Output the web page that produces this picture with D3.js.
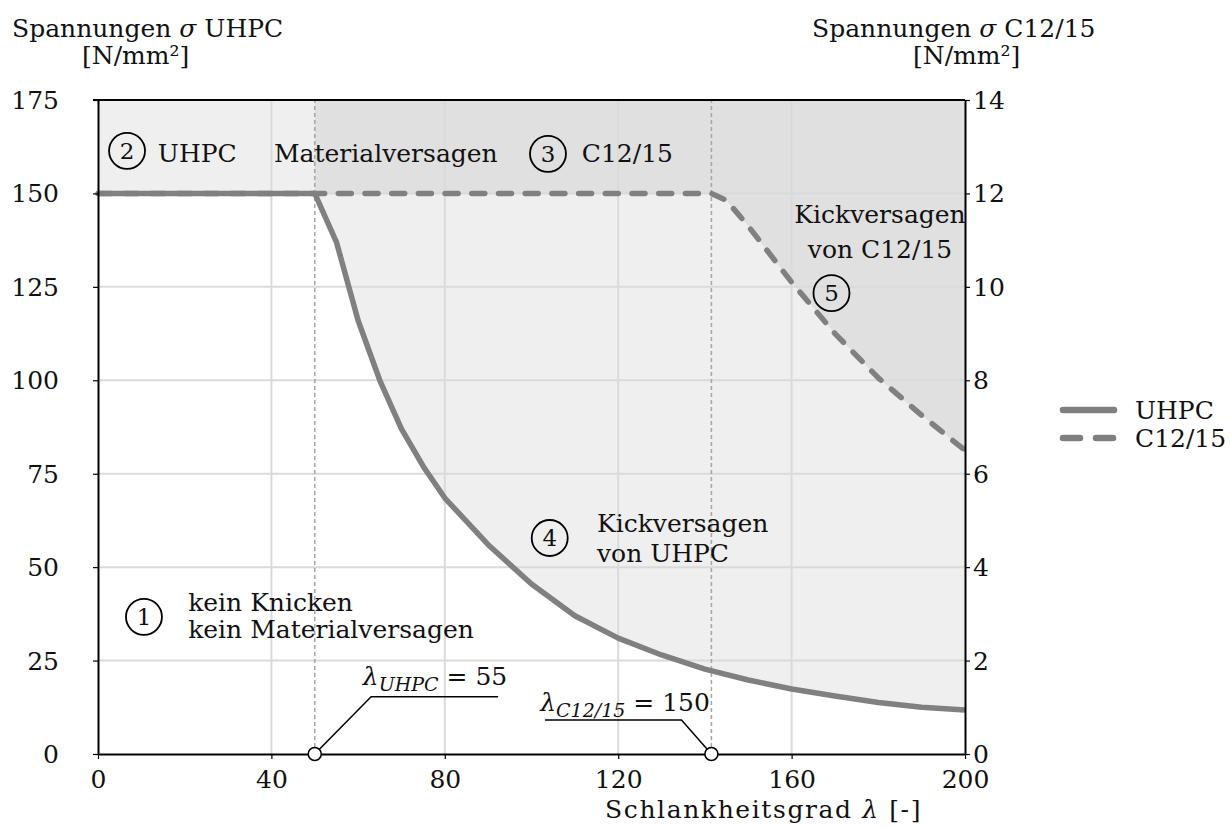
<!DOCTYPE html>
<html><head><meta charset="utf-8">
<script src="https://cdn.jsdelivr.net/npm/d3@7"></script>
<style>
body{margin:0;background:#fff;}
text{font-family:"DejaVu Serif",serif;fill:#111;}
</style></head>
<body><svg id="c" width="1230" height="827"></svg>
<script>
// ---- data ----
const xTicks = [0, 40, 80, 120, 160, 200];
const yLeftTicks = [0, 25, 50, 75, 100, 125, 150, 175];
const yRightTicks = [0, 2, 4, 6, 8, 10, 12, 14];
const uhpcX = [0, 50, 55, 60, 65, 70, 75, 80, 90, 100, 110, 120, 130, 140, 150, 160, 170, 180, 190, 200];
const uhpcY = [150, 150, 137, 116, 100, 87, 77, 68.5, 56, 45.5, 37, 31, 26.5, 22.7, 19.8, 17.4, 15.5, 13.8, 12.5, 11.8];
const c12X = [0, 50, 141.5, 145, 150, 160, 170, 180, 190, 200];
const c12Y = [12, 12, 12, 11.85, 11.3, 10.1, 9.0, 8.05, 7.25, 6.5]; // right axis units
const limitX = [50, 141.5];
const limitNames = ["UHPC", "C12/15"];
const limitValues = ["55", "150"];
const seriesNames = ["UHPC", "C12/15"];

// ---- layout ----
const svg = d3.select("#c");
const x = d3.scaleLinear([0, 200], [98, 965]);
const yL = d3.scaleLinear([0, 175], [754, 100]);
const yR = d3.scaleLinear([0, 14], [754, 100]);
const FS = 25;
const GRAY = "#808080";

const uhpc = uhpcX.map((v, i) => [v, uhpcY[i]]);
const c12 = c12X.map((v, i) => [v, c12Y[i]]);

// fills
svg.append("path")
  .attr("d", d3.area().x(d => x(d[0])).y0(yL(175)).y1(d => yL(d[1]))(uhpc))
  .attr("fill", "#efefef");
svg.append("path")
  .attr("d", d3.area().x(d => x(d[0])).y0(yL(175)).y1(d => yR(d[1]))(c12.filter(d => d[0] >= limitX[0])))
  .attr("fill", "#e0e0e0");

// grid
const grid = svg.append("g").attr("stroke", "#dadada").attr("stroke-width", 2);
xTicks.slice(1, -1).forEach(t => grid.append("line").attr("x1", x(t)).attr("x2", x(t)).attr("y1", yL(0)).attr("y2", yL(175)));
yLeftTicks.slice(1, -1).forEach(t => grid.append("line").attr("x1", x(0)).attr("x2", x(200)).attr("y1", yL(t)).attr("y2", yL(t)));

// vertical limit lines
limitX.forEach(v => svg.append("line").attr("x1", x(v)).attr("x2", x(v)).attr("y1", yL(0)).attr("y2", yL(175))
  .attr("stroke", "#a8a8a8").attr("stroke-width", 1.6).attr("stroke-dasharray", "4,3"));

// curves
svg.append("path").attr("d", d3.line().x(d => x(d[0])).y(d => yR(d[1]))(c12))
  .attr("fill", "none").attr("stroke", GRAY).attr("stroke-width", 5.5)
  .attr("stroke-dasharray", "13,13.7").attr("stroke-linecap", "round").attr("stroke-linejoin", "round");
svg.append("path").attr("d", d3.line().x(d => x(d[0])).y(d => yL(d[1]))(uhpc))
  .attr("fill", "none").attr("stroke", GRAY).attr("stroke-width", 5.5).attr("stroke-linejoin", "round");

// axes
const axL = svg.append("g").attr("transform", `translate(${x(0)},0)`)
  .call(d3.axisLeft(yL).tickValues(yLeftTicks).tickSize(5).tickPadding(34).tickSizeOuter(0));
const axR = svg.append("g").attr("transform", `translate(${x(200)},0)`)
  .call(d3.axisRight(yR).tickValues(yRightTicks).tickSize(5).tickPadding(3).tickSizeOuter(0));
const axB = svg.append("g").attr("transform", `translate(0,${yL(0)})`)
  .call(d3.axisBottom(x).tickValues(xTicks).tickSize(5).tickPadding(8).tickSizeOuter(0));
[axL, axR, axB].forEach(a => {
  a.selectAll(".domain").attr("stroke", "#000").attr("stroke-width", 2);
  a.selectAll(".tick line").attr("stroke", "#000").attr("stroke-width", 1.2);
  a.selectAll(".tick text").attr("font-size", FS).attr("fill", "#111");
});
axB.selectAll(".tick text").attr("dy", "0.85em");
axL.selectAll(".tick text").attr("dy", "0.34em");
axR.selectAll(".tick text").attr("dy", "0.34em");
svg.append("line").attr("x1", x(0) - 5).attr("x2", x(200)).attr("y1", yL(175)).attr("y2", yL(175))
  .attr("stroke", "#000").attr("stroke-width", 2);

// axis titles
function txt(px, py, s, anchor, size) {
  return svg.append("text").attr("x", px).attr("y", py).attr("font-size", size || FS)
    .attr("text-anchor", anchor || "start").text(s);
}
function title(px, py, a, b) {
  const t = svg.append("text").attr("x", px).attr("y", py).attr("font-size", FS);
  t.append("tspan").text(a + " ");
  t.append("tspan").attr("font-style", "italic").text("σ");
  t.append("tspan").text(" " + b);
  return t;
}
title(12, 37, "Spannungen", "UHPC");
txt(82, 64, "[N/mm²]");
title(812, 37, "Spannungen", "C12/15");
txt(913, 64, "[N/mm²]");
const xt = svg.append("text").attr("x", 922).attr("y", 818).attr("font-size", FS)
  .attr("text-anchor", "end").attr("letter-spacing", 1.6);
xt.append("tspan").text("Schlankheitsgrad ");
xt.append("tspan").attr("font-style", "italic").text("λ");
xt.append("tspan").text(" [-]");

// circled numbers
function circ(dx, dy, n) {
  svg.append("circle").attr("cx", x(dx)).attr("cy", yL(dy)).attr("r", 18)
    .attr("fill", "none").attr("stroke", "#000").attr("stroke-width", 1.8);
  svg.append("text").attr("x", x(dx)).attr("y", yL(dy)).attr("dy", "0.36em")
    .attr("text-anchor", "middle").attr("font-size", 23).text(n);
}
function dtxt(dx, dy, s, anchor) { return txt(x(dx), yL(dy), s, anchor); }

circ(6.7, 161.4, "2"); dtxt(13.8, 158.4, "UHPC");
dtxt(40.6, 158.4, "Materialversagen");
circ(103.8, 160.6, "3"); dtxt(111.6, 158.4, "C12/15");
dtxt(180.4, 142.1, "Kickversagen", "middle");
dtxt(180.4, 132.7, "von C12/15", "middle");
circ(169.2, 123.3, "5");
circ(104.2, 57.8, "4"); dtxt(115.1, 59.4, "Kickversagen"); dtxt(115.1, 51.4, "von UHPC");
circ(10.6, 36.7, "1"); dtxt(20.8, 38.3, "kein Knicken"); dtxt(20.8, 31.0, "kein Materialversagen");

// limit callouts
const callouts = [
  {lx: limitX[0], bx: 63, ex: 92.3, y: 15.3, tx: 61.1, ty: 18.5},
  {lx: limitX[1], bx: 134.6, ex: 103.1, y: 9.1, tx: 102, ty: 11.5}
];
callouts.forEach((c, i) => {
  svg.append("path").attr("d", d3.line()([[x(c.lx), yL(0)], [x(c.bx), yL(c.y)], [x(c.ex), yL(c.y)]]))
    .attr("fill", "none").attr("stroke", "#000").attr("stroke-width", 1.5);
  const t = svg.append("text").attr("x", x(c.tx)).attr("y", yL(c.ty)).attr("font-size", FS);
  t.append("tspan").attr("font-style", "italic").text("λ");
  t.append("tspan").attr("font-style", "italic").attr("font-size", 19).attr("dy", 6).text(limitNames[i]);
  t.append("tspan").attr("dy", -6).text(" = " + limitValues[i]);
  svg.append("circle").attr("cx", x(c.lx)).attr("cy", yL(0)).attr("r", 6.5)
    .attr("fill", "#fff").attr("stroke", "#000").attr("stroke-width", 1.5);
});

// legend
const lg = svg.append("g");
seriesNames.forEach((s, i) => {
  const ly = 410 + i * 28;
  lg.append("line").attr("x1", 1063).attr("x2", 1114).attr("y1", ly).attr("y2", ly)
    .attr("stroke", GRAY).attr("stroke-width", 6.5).attr("stroke-linecap", "round")
    .attr("stroke-dasharray", i === 1 ? "17,16" : null);
  lg.append("text").attr("x", 1135).attr("y", ly).attr("dy", "0.35em").attr("font-size", FS).text(s);
});
</script></body></html>
